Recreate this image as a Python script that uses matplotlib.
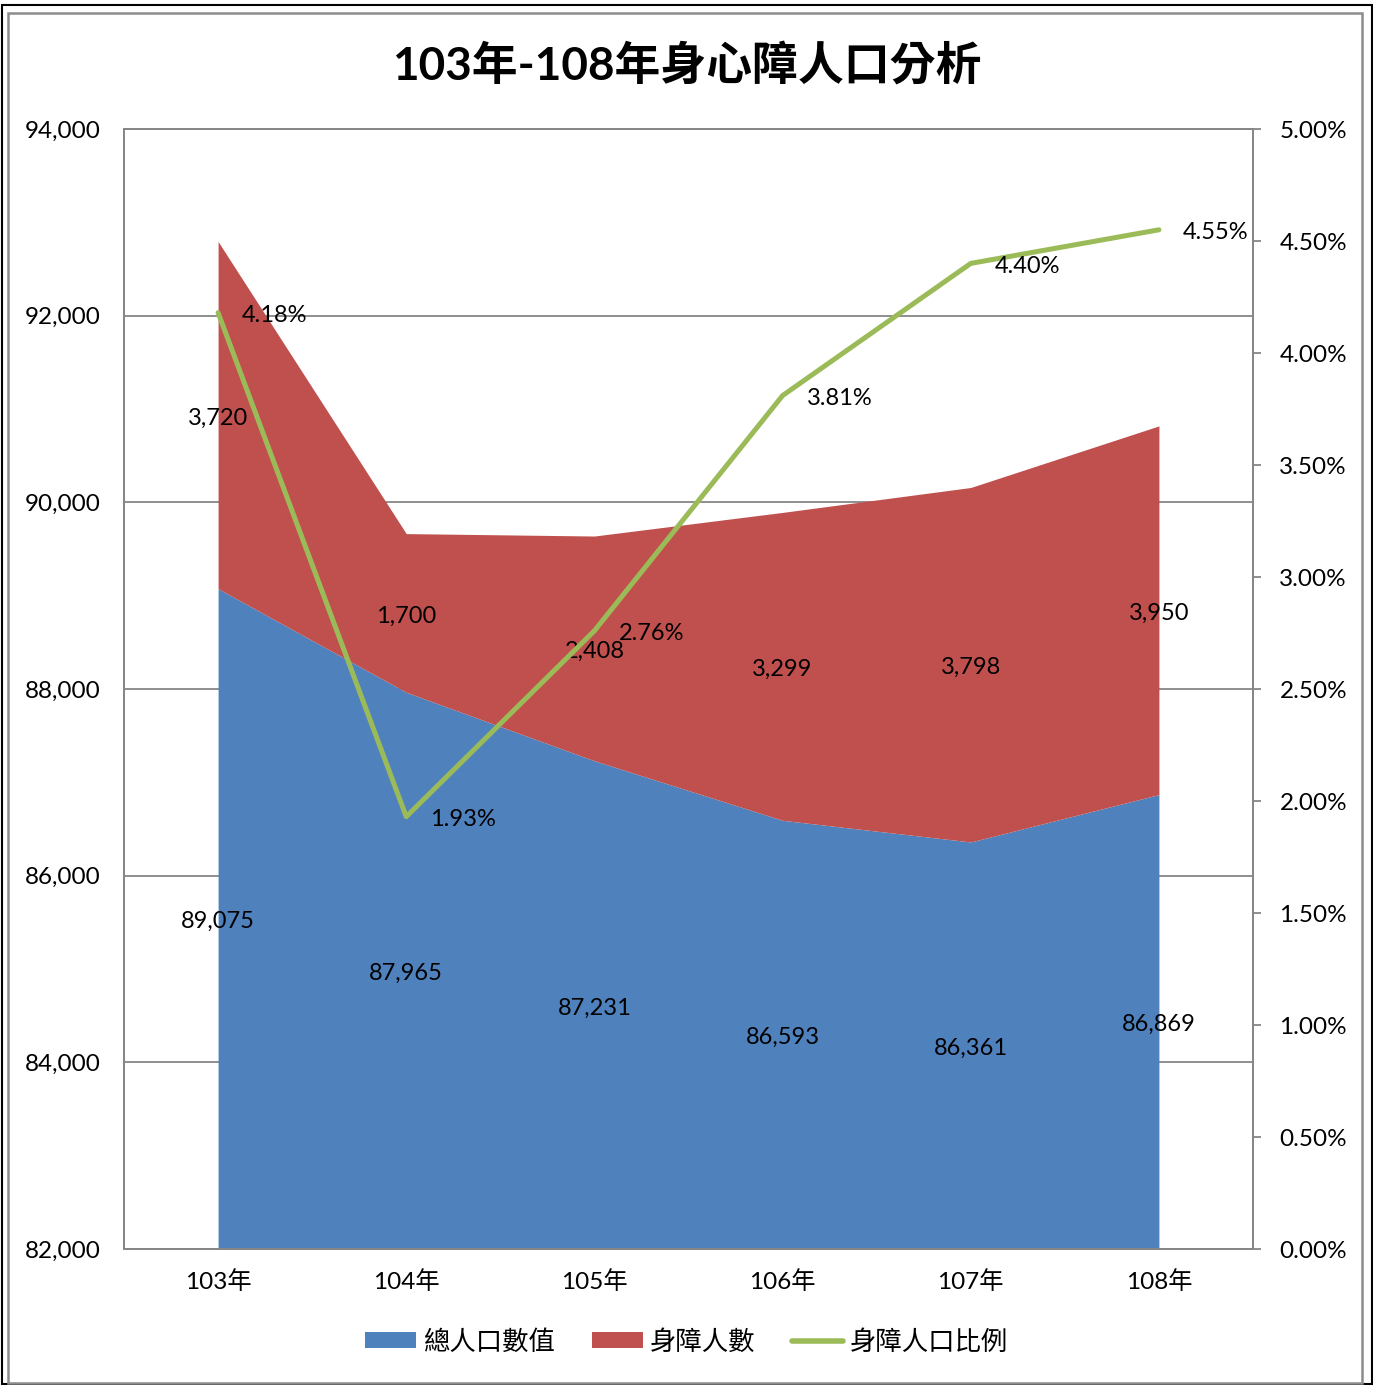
import matplotlib
matplotlib.use("Agg")
import matplotlib.pyplot as plt
from matplotlib.patches import Rectangle
from matplotlib.lines import Line2D
from matplotlib.patches import Patch
from matplotlib.ticker import FuncFormatter, MultipleLocator

plt.rcParams['font.family'] = ['Lato', 'Noto Sans CJK TC', 'DejaVu Sans']

categories = ['103年', '104年', '105年', '106年', '107年', '108年']
total_pop = [89075, 87965, 87231, 86593, 86361, 86869]
disabled = [3720, 1700, 2408, 3299, 3798, 3950]
ratio = [4.18, 1.93, 2.76, 3.81, 4.40, 4.55]

series_names = ['總人口數值', '身障人數', '身障人口比例']
title = '103年-108年身心障人口分析'

BLUE = '#4F81BD'
RED = '#C0504D'
GREEN = '#9BBB59'
GRID = '#868686'

W, H = 1373, 1385
fig = plt.figure(figsize=(W / 100, H / 100), dpi=100)

# outer borders
fig.patches.append(Rectangle((1.5 / W, 1.5 / H), 1 - 3 / W, 1 - 6 / H, transform=fig.transFigure,
                             fill=False, edgecolor='black', linewidth=1.5))
fig.patches.append(Rectangle((8 / W, 2.5 / H), (1362 - 8) / W, (1383 - 13) / H, transform=fig.transFigure,
                             fill=False, edgecolor='#8c8c8c', linewidth=1.8))

left, right = 124 / W, 1253 / W
bottom, top = 1 - 1249 / H, 1 - 129 / H
ax = fig.add_axes([left, bottom, right - left, top - bottom])

x = list(range(len(categories)))
ymin = 82000
stack_top = [t + d for t, d in zip(total_pop, disabled)]

ax.fill_between(x, ymin, total_pop, color=BLUE, linewidth=0, zorder=2)
ax.fill_between(x, total_pop, stack_top, color=RED, linewidth=0, zorder=2)

ax.set_xlim(-0.5, len(categories) - 0.5)
ax.set_ylim(82000, 94000)
ax.yaxis.set_major_locator(MultipleLocator(2000))
ax.yaxis.set_major_formatter(FuncFormatter(lambda v, p: f'{int(v):,}'))
ax.set_xticks(x)
ax.set_xticklabels(categories)
ax.grid(axis='y', color=GRID, linewidth=1.3, zorder=1)
ax.set_axisbelow(True)
ax.tick_params(axis='y', length=0, pad=17, labelsize=17.5)
ax.tick_params(axis='x', length=0, pad=15, labelsize=17.5)
for s in ax.spines.values():
    s.set_color(GRID)
    s.set_linewidth(1.3)

for i in x:
    ax.annotate(f'{total_pop[i]:,}', (i, (ymin + total_pop[i]) / 2), xytext=(0, -3),
                textcoords='offset pixels', ha='center', va='center', fontsize=17, zorder=5)
    ax.annotate(f'{disabled[i]:,}', (i, total_pop[i] + disabled[i] / 2), xytext=(0, -3),
                textcoords='offset pixels', ha='center', va='center', fontsize=17, zorder=5)

ax2 = ax.twinx()
ax2.plot(x, ratio, color=GREEN, linewidth=3.6, solid_capstyle='round', zorder=4)
ax2.set_ylim(0, 5)
ax2.yaxis.set_major_locator(MultipleLocator(0.5))
ax2.yaxis.set_major_formatter(FuncFormatter(lambda v, p: f'{v:.2f}%'))
ax2.tick_params(axis='y', length=6, width=1.3, color=GRID, pad=13, labelsize=17.5)
for s in ax2.spines.values():
    s.set_color(GRID)
    s.set_linewidth(1.3)
for i in x:
    ax2.annotate(f'{ratio[i]:.2f}%', (i, ratio[i]), xytext=(24, -3), textcoords='offset pixels',
                 ha='left', va='center', fontsize=17, zorder=6)

fig.text(0.5, 1 - 66 / H, title, ha='center', va='center', fontsize=33, fontweight='bold')

handles = [Patch(facecolor=BLUE, edgecolor='none'),
           Patch(facecolor=RED, edgecolor='none'),
           Line2D([0], [0], color=GREEN, linewidth=4, solid_capstyle='round')]
fig.legend(handles, series_names, loc='center', bbox_to_anchor=(0.5, 1 - 1342 / H), ncol=3,
           frameon=False, fontsize=19, handlelength=1.95, handleheight=0.55, handletextpad=0.25,
           columnspacing=1.4)

fig.savefig('out.png', dpi=100)
